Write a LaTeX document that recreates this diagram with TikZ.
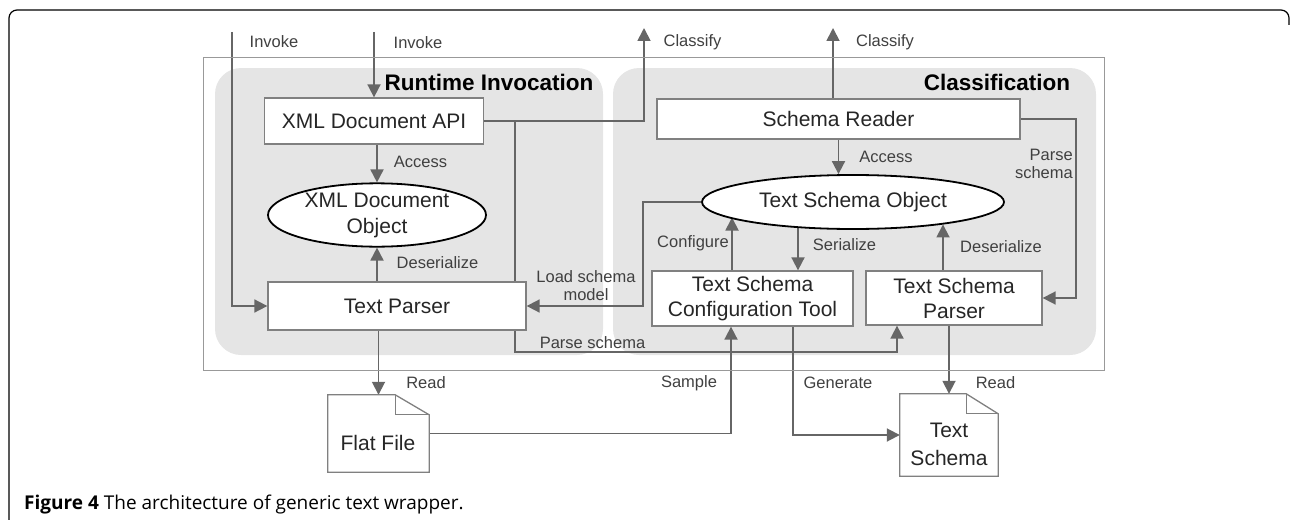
\documentclass[tikz,border=0pt]{standalone}
\usepackage{fontspec}
\setmainfont{Liberation Sans}
\newfontfamily\capfont{Open Sans}
\usetikzlibrary{arrows.meta,shapes.geometric,calc}
\pgfdeclarelayer{bg}
\pgfsetlayers{bg,main}
\definecolor{arrgray}{HTML}{666666}
\definecolor{boxgray}{HTML}{808080}
\definecolor{regiongray}{HTML}{E5E5E5}
\definecolor{labgray}{HTML}{404040}
\tikzset{
  arr/.style={draw=arrgray, line width=1.8pt, -{Triangle[length=13pt,width=13pt]}},
  boxnode/.style={rectangle, draw=boxgray, line width=1.3pt, fill=white, font=\fontsize{21}{25}\selectfont, align=center, inner sep=0pt, text=black!85},
  ellnode/.style={ellipse, draw=black, line width=1.8pt, fill=white, font=\fontsize{21}{26}\selectfont, align=center, inner sep=0pt, text=black!85},
  docnode/.style={rectangle, inner sep=0pt},
  doctext/.style={font=\fontsize{21}{28}\selectfont, align=center, inner sep=0pt, text=black!85},
  docline/.style={draw=boxgray, line width=1.3pt},
  lab/.style={font=\fontsize{16.5}{18}\selectfont, text=labgray, inner sep=0pt, align=center},
  ttl/.style={font=\bfseries\fontsize{22.5}{24}\selectfont, text=black, inner sep=0pt},
  region/.style={fill=regiongray, rounded corners=26pt},
}
\begin{document}
\begin{tikzpicture}[x=1pt,y=-1pt]
\useasboundingbox (0,0) rectangle (1292,519);
% outer frame
\draw[black, line width=1.2pt, rounded corners=8pt] (9,525) -- (9,10) -- (1289,10) -- (1289,25);
% inner frame
\draw[draw=black!40, line width=1pt] (203,58) rectangle (1104,370);

% nodes
\node[boxnode, minimum width=219pt, minimum height=46pt] (api) at (374,121) {XML Document API};
\node[ellnode, minimum width=218pt, minimum height=56pt] (xdo) at (377,215) {XML Document\\Object};
\node[boxnode, minimum width=258pt, minimum height=48pt] (tp) at (397,306) {Text Parser};
\node[boxnode, minimum width=363pt, minimum height=40pt] (sr) at (838.5,119) {Schema Reader};
\node[ellnode, minimum width=302pt, minimum height=54pt] (tso) at (853,202) {Text Schema Object};
\node[boxnode, minimum width=201pt, minimum height=55pt] (tsct) at (752.5,298.5) {Text Schema\\Configuration Tool};
\node[boxnode, minimum width=176pt, minimum height=54pt] (tsp) at (954,298) {Text Schema\\Parser};
\node[docnode, minimum width=101pt, minimum height=77pt] (ff) at (378.5,433.5) {};
\node[docnode, minimum width=98pt, minimum height=82pt] (ts) at (949,435) {};

% document outlines
\draw[docline, fill=white] (ff.north west) -- ([xshift=-34pt]ff.north east) -- ([yshift=-20pt]ff.north east) -- (ff.south east) -- (ff.south west) -- cycle;
\draw[docline] ([xshift=-34pt]ff.north east) |- ([yshift=-20pt]ff.north east);
\draw[docline, fill=white] (ts.north west) -- ([xshift=-32pt]ts.north east) -- ([yshift=-20pt]ts.north east) -- (ts.south east) -- (ts.south west) -- cycle;
\draw[docline] ([xshift=-32pt]ts.north east) |- ([yshift=-20pt]ts.north east);
\node[doctext] (fftext) at (378,443) {Flat File};
\node[doctext] (tstext) at (949,444) {Text\\Schema};

% titles and labels
\node[ttl] (t1) at (489,82) {Runtime Invocation};
\node[ttl] (t2) at (997,82) {Classification};
\node[lab] (l1) at (274,42) {Invoke};
\node[lab] (l2) at (418,43) {Invoke};
\node[lab] (l3) at (692.5,42) {Classify};
\node[lab] (l4) at (885,42) {Classify};
\node[lab] (l5) at (420.5,162) {Access};
\node[lab] (l6) at (437.5,263) {Deserialize};
\node[lab] (l7) at (586,286) {Load schema\\model};
\node[lab] (l8) at (592.5,343) {Parse schema};
\node[lab] (l9) at (886,157) {Access};
\node[lab, anchor=east, align=right] (l10) at (1073,164) {Parse\\schema};
\node[lab] (l11) at (693,243) {Configure};
\node[lab] (l12) at (844.5,245) {Serialize};
\node[lab] (l13) at (1001,247) {Deserialize};
\node[lab] (l14) at (426,383) {Read};
\node[lab] (l15) at (689,383) {Sample};
\node[lab] (l16) at (838,383) {Generate};
\node[lab] (l17) at (995.5,383) {Read};
\node[anchor=base west, inner sep=0pt, font=\capfont\fontsize{19}{22}\selectfont, text=black] (cap) at (24,509) {\textbf{Figure 4} The architecture of generic text wrapper.};

% coordinates
\coordinate (inv1) at (232,32);
\coordinate (inv2) at (374,32);
\coordinate (cl1) at (644,28);
\coordinate (cl2) at (833,28);
\coordinate (ps1) at (515,352);
\coordinate (psx) at (897,352);
\coordinate (ls) at (643,202);
\coordinate (pr) at (1076,200);
\coordinate (cfg) at (732,0);
\coordinate (ser) at (798,0);
\coordinate (des) at (943,0);
\coordinate (smp) at (731,0);
\coordinate (gen) at (793,0);

\begin{pgfonlayer}{bg}
\fill[region] (215,68) rectangle (603,355);
\fill[region] (613,68) rectangle (1096,355);
\draw[arr] (inv1) |- (tp.west);
\draw[arr] (inv2) -- (api.north);
\draw[arr] (xdo.north |- api.south) -- (xdo.north);
\draw[arr] (xdo.south |- tp.north) -- (xdo.south);
\draw[arr] (api.east) -| (cl1);
\draw[arr] (api.east -| ps1) -- (ps1) -- (psx) -- (psx |- tsp.south);
\draw[arr] (tso.west) -- (ls) |- (tp.east);
\draw[arr] (sr.north -| cl2) -- (cl2);
\draw[arr] (sr.south) -- (sr.south |- tso.north);
\draw[arr] (sr.east) -| (pr) |- (tsp.east);
\draw[arr] (cfg |- tsct.north) -- (cfg |- tso.187.5);
\draw[arr] (ser |- tso.204.5) -- (ser |- tsct.north);
\draw[arr] (des |- tsp.north) -- (des |- tso.346.4);
\draw[arr] (ff.east) -| (smp |- tsct.south);
\draw[arr] (gen |- tsct.south) |- (ts.west);
\draw[arr] (ts.north |- tsp.south) -- (ts.north);
\draw[arr] (ff.north |- tp.south) -- (ff.north);
\end{pgfonlayer}
\end{tikzpicture}
\end{document}
